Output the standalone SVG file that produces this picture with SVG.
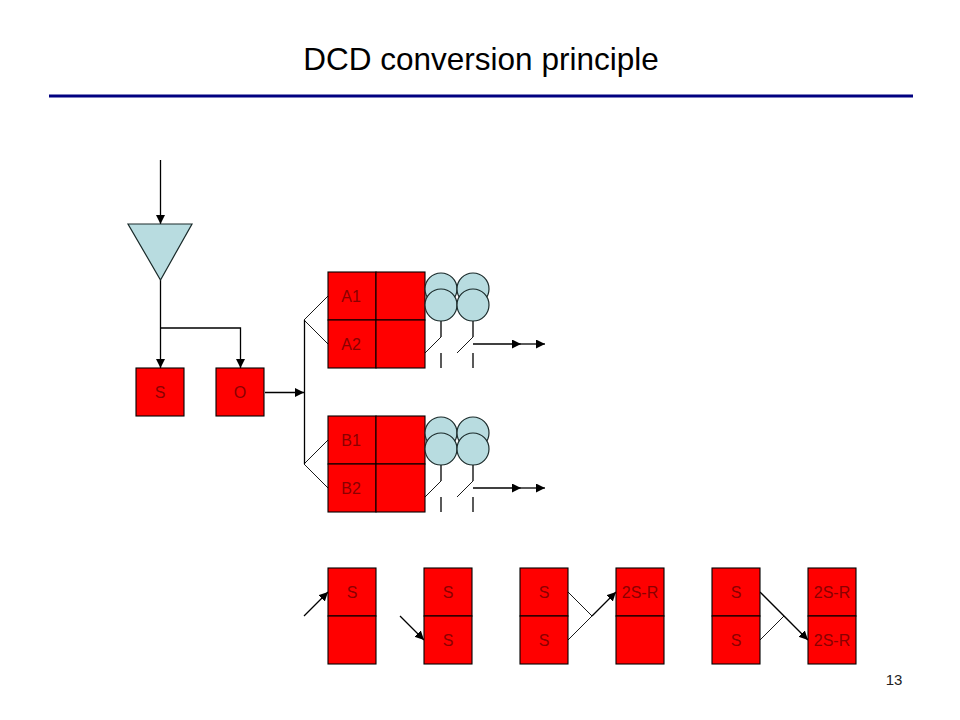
<svg xmlns="http://www.w3.org/2000/svg" width="960" height="720" viewBox="0 0 960 720">
<style>
text{font-family:"Liberation Sans",Arial,sans-serif}
.r{fill:#ff0000;stroke:#000;stroke-width:1.1}
.l{font-size:16px;fill:#8a0000;text-anchor:middle}
.b{fill:#b8dce0;stroke:#1a2a2a;stroke-width:1.2}
.c{fill:none;stroke:#000;stroke-width:1.3}
.t{fill:none;stroke:#000;stroke-width:0.9}
.a{marker-end:url(#ah)}
</style>
<defs>
<marker id="ah" markerUnits="userSpaceOnUse" markerWidth="11" markerHeight="10" refX="9" refY="4.5" orient="auto">
<path d="M0 0L9 4.5L0 9Z" fill="#000"/>
</marker>
</defs>
<rect width="960" height="720" fill="#fff"/>
<text id="title" x="481" y="70" font-size="31.5" text-anchor="middle" fill="#000">DCD conversion principle</text>
<line id="rule" x1="49" y1="96" x2="913" y2="96" stroke="#000080" stroke-width="3"/>
<text id="page" x="894" y="685" font-size="15" text-anchor="middle" fill="#222">13</text>

<g id="connectors">
<path class="c a" d="M160.500 160V224"/>
<path class="c a" d="M160.500 280V368"/>
<path class="c a" d="M160.500 328H240.500V368"/>
<path class="c a" d="M265 392.500H304"/>
<path class="c" d="M304.500 320V464"/>
<path class="t" d="M328 296L304 320L328 344M328 440L304 464L328 488"/>
<path class="c" d="M441 321V337"/><path class="t" d="M441 337L425 353"/><path class="c" d="M441 353V368"/>
<path class="c" d="M473 321V337"/><path class="t" d="M473 337L457 353"/><path class="c" d="M473 353V368"/>
<path class="c a" d="M473 344H521"/><path class="c a" d="M521 344H545"/>
<path class="c" d="M441 465V481"/><path class="t" d="M441 481L425 497"/><path class="c" d="M441 497V512"/>
<path class="c" d="M473 465V481"/><path class="t" d="M473 481L457 497"/><path class="c" d="M473 497V512"/>
<path class="c a" d="M473 488H521"/><path class="c a" d="M521 488H545"/>
<path class="c a" d="M304 616L328 592"/>
<path class="c a" d="M400 616L424 640"/>
<path class="t" d="M568 592L592 616L568 640"/>
<path class="c a" d="M592 616L616 592"/>
<path class="c a" d="M760 592L808 640"/>
<path class="t" d="M760 640L784 616"/>
</g>

<g id="splitter"><path class="b" d="M128 224H192L160.500 280Z"/></g>
<g id="node-s"><rect class="r" x="136" y="368" width="48" height="48"/><text class="l" x="160" y="398">S</text></g>
<g id="node-o"><rect class="r" x="216" y="368" width="48" height="48"/><text class="l" x="240" y="398">O</text></g>

<g id="block-a">
<rect class="r" x="328" y="272" width="48" height="48"/><rect class="r" x="376" y="272" width="49" height="48"/>
<rect class="r" x="328" y="320" width="48" height="48"/><rect class="r" x="376" y="320" width="49" height="48"/>
<text class="l" x="351" y="302">A1</text><text class="l" x="351" y="350">A2</text>
</g>
<g id="coils-a">
<circle class="b" cx="441" cy="289" r="16"/><circle class="b" cx="473" cy="289" r="16"/>
<circle class="b" cx="441" cy="305" r="16"/><circle class="b" cx="473" cy="305" r="16"/>
</g>
<g id="block-b">
<rect class="r" x="328" y="416" width="48" height="48"/><rect class="r" x="376" y="416" width="49" height="48"/>
<rect class="r" x="328" y="464" width="48" height="48"/><rect class="r" x="376" y="464" width="49" height="48"/>
<text class="l" x="351" y="446">B1</text><text class="l" x="351" y="494">B2</text>
</g>
<g id="coils-b">
<circle class="b" cx="441" cy="433" r="16"/><circle class="b" cx="473" cy="433" r="16"/>
<circle class="b" cx="441" cy="449" r="16"/><circle class="b" cx="473" cy="449" r="16"/>
</g>

<g id="cell-1"><rect class="r" x="328" y="568" width="48" height="48"/><rect class="r" x="328" y="616" width="48" height="48"/><text class="l" x="352" y="598">S</text></g>
<g id="cell-2"><rect class="r" x="424" y="568" width="48" height="48"/><rect class="r" x="424" y="616" width="48" height="48"/><text class="l" x="448" y="598">S</text><text class="l" x="448" y="646">S</text></g>
<g id="cell-3"><rect class="r" x="520" y="568" width="48" height="48"/><rect class="r" x="520" y="616" width="48" height="48"/><text class="l" x="544" y="598">S</text><text class="l" x="544" y="646">S</text></g>
<g id="cell-4"><rect class="r" x="616" y="568" width="48" height="48"/><rect class="r" x="616" y="616" width="48" height="48"/><text class="l" x="640" y="598">2S-R</text></g>
<g id="cell-5"><rect class="r" x="712" y="568" width="48" height="48"/><rect class="r" x="712" y="616" width="48" height="48"/><text class="l" x="736" y="598">S</text><text class="l" x="736" y="646">S</text></g>
<g id="cell-6"><rect class="r" x="808" y="568" width="48" height="48"/><rect class="r" x="808" y="616" width="48" height="48"/><text class="l" x="832" y="598">2S-R</text><text class="l" x="832" y="646">2S-R</text></g>
</svg>
